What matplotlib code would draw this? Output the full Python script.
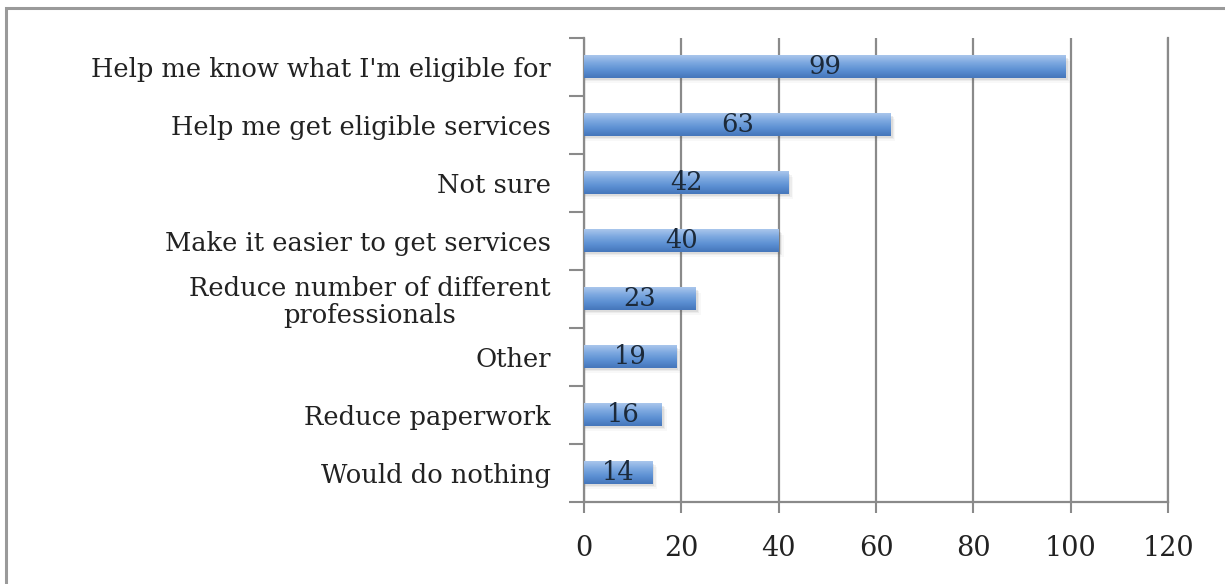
import numpy as np
import matplotlib
matplotlib.use("Agg")
import matplotlib.pyplot as plt
from matplotlib.patches import Rectangle
from matplotlib.colors import LinearSegmentedColormap

categories = [
    "Help me know what I'm eligible for",
    "Help me get eligible services",
    "Not sure",
    "Make it easier to get services",
    "Reduce number of different\nprofessionals",
    "Other",
    "Reduce paperwork",
    "Would do nothing",
]
values = [99, 63, 42, 40, 23, 19, 16, 14]
x_ticks = [0, 20, 40, 60, 80, 100, 120]

plt.rcParams["font.family"] = ["DejaVu Serif"]

fig = plt.figure(figsize=(12.25, 5.84), dpi=100)
ax = fig.add_axes([584 / 1225, 82 / 584, (1168 - 584) / 1225, (546 - 82) / 584])

grid_color = "#8a8a8a"
text_color = "#222222"
bar_h = 0.38
n = len(categories)
ypos = np.arange(n)

cmap = LinearSegmentedColormap.from_list(
    "barfill", ["#a9c6ec", "#7ca8e0", "#5b8fd2", "#4576bb"]
)
grad = np.linspace(0, 1, 64).reshape(-1, 1)

for y, v in zip(ypos, values):
    # soft shadow under each bar
    for k, a in enumerate([0.10, 0.07, 0.04]):
        off = 0.03 + 0.025 * k
        ax.add_patch(Rectangle((0, y - bar_h / 2 + off), v + 0.4 + 0.3 * k, bar_h,
                               facecolor="#555555", alpha=a, edgecolor="none", zorder=2))
    ax.imshow(grad, cmap=cmap, aspect="auto", interpolation="bicubic",
              extent=[0, v, y + bar_h / 2, y - bar_h / 2], zorder=3)
    ax.text(v / 2, y, str(v), ha="center", va="center", fontsize=18.5,
            color="#1c2a3a", zorder=4)

ax.set_xlim(0, 120)
ax.set_ylim(n - 0.5, -0.5)

ax.set_xticks(x_ticks)
ax.set_xticklabels([str(t) for t in x_ticks])
ax.set_yticks(ypos)
ax.set_yticklabels(categories, fontsize=18.5, color=text_color, linespacing=1.1,
                   multialignment="center")
ax.set_yticks(np.arange(-0.5, n, 1.0), minor=True)

ax.tick_params(axis="y", which="major", length=0, pad=24)
ax.tick_params(axis="y", which="minor", length=11, width=1.5, color=grid_color,
               direction="out")
ax.tick_params(axis="x", length=8, width=1.5, color=grid_color, pad=16,
               labelsize=19.5, labelcolor=text_color)

ax.grid(axis="x", color=grid_color, linewidth=1.6, zorder=1)
ax.set_axisbelow(True)
ax.spines["top"].set_visible(False)
for side in ["left", "bottom", "right"]:
    ax.spines[side].set_color(grid_color)
    ax.spines[side].set_linewidth(1.6)

# outer chart frame
fig.patches.append(Rectangle((6 / 1225, -0.1), 1.2, 1 - 8 / 584 + 0.1,
                             transform=fig.transFigure, fill=False,
                             edgecolor="#9a9a9a", linewidth=2.2))

fig.savefig("out.png", dpi=100, facecolor="white")
